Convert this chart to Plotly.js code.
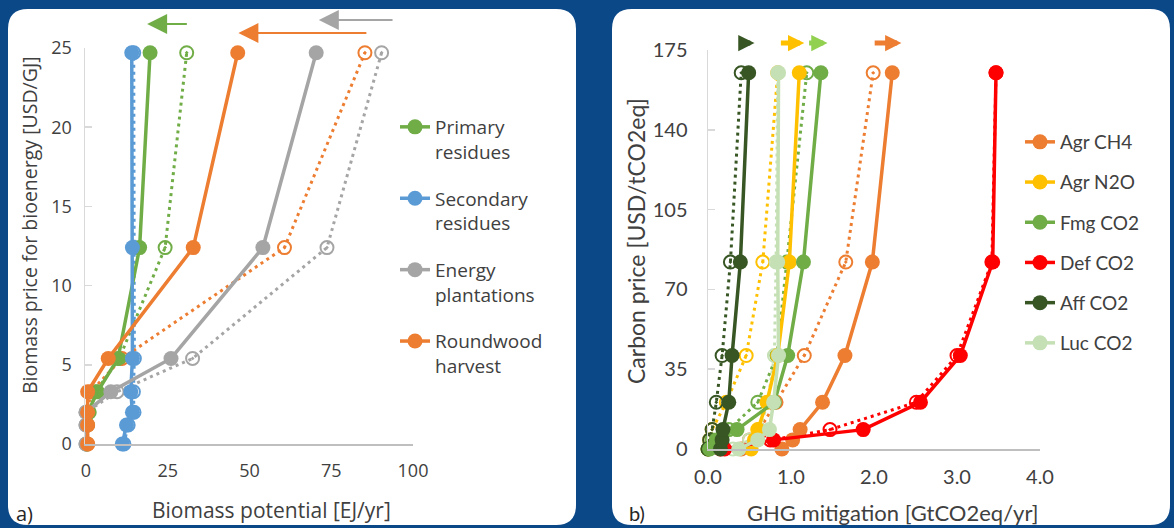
<!DOCTYPE html>
<html><head><meta charset="utf-8">
<script src="https://cdn.plot.ly/plotly-3.0.1.min.js"></script>
<style>html,body{margin:0;padding:0;background:#0b4888;}#chart{width:1174px;height:528px;}</style>
</head><body><div id="chart"></div>
<script>
// ---------- Panel a: biomass ----------
const priceA = [0, 1.2, 2.0, 3.3, 5.4, 12.4, 24.7];
const namesA = ["Primary<br>residues", "Secondary<br>residues", "Energy<br>plantations", "Roundwood<br>harvest"];
const colorsA = ["#70AD47", "#5B9BD5", "#A5A5A5", "#ED7D31"];
const primarySolid   = [0.3, 0.4, 0.6, 3.5, 9.8, 16.4, 19.6];
const primaryDotted  = [0.2, 0.4, 1.0, 3.0, 10.2, 24.2, 30.8];
const secondarySolid = [11.1, 12.4, 14.2, 13.7, 14.2, 14.2, 14.0];
const secondaryDotted= [11.6, 12.9, 14.7, 14.5, 14.8, 14.8, 14.6];
const energySolid    = [0, 0, 0, 7.6, 26.0, 54.1, 70.4];
const energyDotted   = [0, 0, 0, 9.5, 32.6, 73.7, 90.4];
const roundSolid     = [0.5, 0.5, 0.5, 0.5, 6.8, 32.8, 46.4];
const roundDotted    = [0.5, 0.5, 0.5, 1.5, 11.0, 60.7, 85.3];
const solidA  = [primarySolid, secondarySolid, energySolid, roundSolid];
const dottedA = [primaryDotted, secondaryDotted, energyDotted, roundDotted];
const ticksAx = [0, 25, 50, 75, 100];
const ticksAy = [0, 5, 10, 15, 20, 25];
// shift arrows (from -> to), panel a
const arrowFromA = [31.3, 86.2, 94.2];
const arrowToA   = [18.7, 46.6, 71.2];
const arrowColA  = ["#70AD47", "#ED7D31", "#A5A5A5"];

// ---------- Panel b: GHG mitigation ----------
const priceB = [0, 4, 8.5, 20.5, 41, 82, 165];
const namesB = ["Agr CH4", "Agr N2O", "Fmg CO2", "Def CO2", "Aff CO2", "Luc CO2"];
const colorsB = ["#ED7D31", "#FFC000", "#70AD47", "#FF0000", "#375623", "#C5E0B4"];
const agrCH4Solid  = [0.89, 1.02, 1.11, 1.38, 1.65, 1.98, 2.22];
const agrCH4Dotted = [0.40, 0.50, 0.62, 0.82, 1.16, 1.66, 1.99];
const agrN2OSolid  = [0.52, 0.56, 0.60, 0.71, 0.84, 0.98, 1.10];
const agrN2ODotted = [0.00, 0.02, 0.05, 0.22, 0.46, 0.66, 0.84];
const fmgCO2Solid  = [0.02, 0.10, 0.35, 0.80, 0.96, 1.15, 1.36];
const fmgCO2Dotted = [0.00, 0.05, 0.25, 0.60, 0.83, 0.95, 1.19];
const defCO2Solid  = [0.20, 0.79, 1.87, 2.56, 3.04, 3.43, 3.47];
const defCO2Dotted = [0.15, 0.75, 1.47, 2.51, 3.00, 3.42, 3.47];
const affCO2Solid  = [0.15, 0.17, 0.18, 0.25, 0.29, 0.39, 0.49];
const affCO2Dotted = [0.00, 0.02, 0.05, 0.10, 0.17, 0.27, 0.40];
const lucCO2Solid  = [0.37, 0.60, 0.74, 0.79, 0.85, 0.84, 0.85];
const lucCO2Dotted = [0.30, 0.50, 0.62, 0.72, 0.80, 0.82, 0.84];
const solidB  = [agrCH4Solid, agrN2OSolid, fmgCO2Solid, defCO2Solid, affCO2Solid, lucCO2Solid];
const dottedB = [agrCH4Dotted, agrN2ODotted, fmgCO2Dotted, defCO2Dotted, affCO2Dotted, lucCO2Dotted];
const ticksBx = [0, 1, 2, 3, 4];
const ticksBy = [0, 35, 70, 105, 140, 175];
const arrowFromB = [0.36, 0.86, 1.20, 1.99];
const arrowToB   = [0.56, 1.16, 1.44, 2.33];
const arrowColB  = ["#375623", "#FFC000", "#92D050", "#ED7D31"];

// ---------- geometry helpers ----------
const W = 1174, H = 528;
const px = v => v / W, py = v => 1 - v / H;
const FONT_A = '"Open Sans", Lato, sans-serif';
const FONT_B = 'Lato, "Open Sans", sans-serif';
const TXT = '#404040';

function roundRect(x0, y0, x1, y1, r) {
  const a = px(x0), b = px(x1), t = py(y0), u = py(y1), rx = r / W, ry = r / H;
  return `M${a+rx},${t} L${b-rx},${t} Q${b},${t} ${b},${t-ry} L${b},${u+ry} Q${b},${u} ${b-rx},${u} ` +
         `L${a+rx},${u} Q${a},${u} ${a},${u+ry} L${a},${t-ry} Q${a},${t} ${a+rx},${t} Z`;
}

const traces = [];
dottedA.forEach((xs, i) => traces.push({
  x: xs, y: priceA, xaxis: 'x', yaxis: 'y', type: 'scatter', mode: 'lines+markers',
  line: {color: colorsA[i], width: 3, dash: '3px,4px'},
  marker: {symbol: 'circle-open-dot', size: 13, color: colorsA[i], line: {width: 2, color: colorsA[i]}},
  showlegend: false, legendgroup: 'a' + i, cliponaxis: false, hoverinfo: 'skip'
}));
solidA.forEach((xs, i) => traces.push({
  x: xs, y: priceA, xaxis: 'x', yaxis: 'y', type: 'scatter', mode: 'lines+markers',
  name: namesA[i], legend: 'legend', legendgroup: 'a' + i,
  line: {color: colorsA[i], width: 3.5},
  marker: {symbol: 'circle', size: 15, color: colorsA[i]},
  cliponaxis: false, hoverinfo: 'skip'
}));
dottedB.forEach((xs, i) => traces.push({
  x: xs, y: priceB, xaxis: 'x2', yaxis: 'y2', type: 'scatter', mode: 'lines+markers',
  line: {color: colorsB[i], width: 3, dash: '3px,4px'},
  marker: {symbol: 'circle-open-dot', size: 13, color: colorsB[i], line: {width: 2, color: colorsB[i]}},
  showlegend: false, legend: 'legend2', legendgroup: 'b' + i, cliponaxis: false, hoverinfo: 'skip'
}));
solidB.forEach((xs, i) => traces.push({
  x: xs, y: priceB, xaxis: 'x2', yaxis: 'y2', type: 'scatter', mode: 'lines+markers',
  name: namesB[i], legend: 'legend2', legendgroup: 'b' + i,
  line: {color: colorsB[i], width: 3.5},
  marker: {symbol: 'circle', size: 15, color: colorsB[i]},
  cliponaxis: false, hoverinfo: 'skip'
}));

const annotations = [];
arrowFromA.forEach((f, i) => annotations.push({
  xref: 'x', yref: 'paper', x: arrowToA[i], y: py([24, 33, 20][i]), axref: 'x', ayref: 'pixel', ax: f, ay: 0,
  text: '', showarrow: true, arrowhead: 2, arrowsize: 2, arrowwidth: 2, arrowcolor: arrowColA[i], standoff: 0
}));
arrowFromB.forEach((f, i) => annotations.push({
  xref: 'x2', yref: 'paper', x: arrowToB[i], y: py(43), axref: 'x2', ayref: 'pixel', ax: f, ay: 0,
  text: '', showarrow: true, arrowhead: 2, arrowsize: 0.65, arrowwidth: 5, arrowcolor: arrowColB[i], standoff: 0
}));
function label(x, y, text, font, angle) {
  return {xref: 'paper', yref: 'paper', x: px(x), y: py(y), xanchor: 'center', yanchor: 'middle',
          text: text, textangle: angle || 0, showarrow: false, font: font};
}
annotations.push(
  label(29, 225, 'Biomass price for bioenergy [USD/GJ]', {family: FONT_A, size: 19.5, color: TXT}, -90),
  label(271, 510, 'Biomass potential [EJ/yr]', {family: FONT_A, size: 21, color: TXT}),
  label(24, 513, 'a)', {family: FONT_A, size: 20, color: '#262626'}),
  label(636, 241, 'Carbon price [USD/tCO2eq]', {family: FONT_B, size: 23, color: TXT}, -90),
  label(893, 512, 'GHG mitigation [GtCO2eq/yr]', {family: FONT_B, size: 22, color: TXT}),
  label(637, 513, 'b)', {family: FONT_B, size: 20, color: '#262626'})
);

const baseX = {showgrid: false, zeroline: false, showline: true, linecolor: '#bfbfbf', linewidth: 2, ticks: '', fixedrange: true};
const baseY = {showgrid: false, zeroline: false, showline: true, linecolor: '#d9d9d9', linewidth: 1.5, ticks: 'inside',
               ticklen: 7, tickcolor: '#d9d9d9', tickwidth: 1.5, fixedrange: true};
const tickFontA = {family: FONT_A, size: 18, color: TXT};
const tickFontB = {family: FONT_B, size: 20, color: TXT};

const layout = {
  width: W, height: H, margin: {l: 0, r: 0, t: 0, b: 0},
  paper_bgcolor: '#0b4888', plot_bgcolor: 'rgba(0,0,0,0)',
  font: {family: FONT_B, color: TXT},
  xaxis: Object.assign({}, baseX, {domain: [px(85), px(413)], range: [-0.3, 100], anchor: 'y', tickvals: ticksAx, tickfont: tickFontA, ticklabelstandoff: 9}),
  yaxis: Object.assign({}, baseY, {domain: [py(444), py(48)], range: [0, 25], anchor: 'x', tickvals: ticksAy, tickfont: tickFontA, ticklabelstandoff: 8}),
  xaxis2: Object.assign({}, baseX, {domain: [px(708), px(1040)], range: [0, 4], anchor: 'y2', tickvals: ticksBx, tickformat: '.1f', tickfont: tickFontB, ticklabelstandoff: 9}),
  yaxis2: Object.assign({}, baseY, {domain: [py(449), py(50)], range: [0, 175], anchor: 'x2', tickvals: ticksBy, tickfont: tickFontB, ticklabelstandoff: 15}),
  legend: {x: px(395), y: py(108), xanchor: 'left', yanchor: 'top', bgcolor: 'rgba(0,0,0,0)',
           font: {family: FONT_A, size: 19, color: TXT}, valign: 'top', tracegroupgap: 19, traceorder: 'grouped', itemwidth: 30},
  legend2: {x: px(1020), y: py(123), xanchor: 'left', yanchor: 'top', bgcolor: 'rgba(0,0,0,0)',
           font: {family: FONT_B, size: 19, color: TXT}, tracegroupgap: 12.5, traceorder: 'grouped', itemwidth: 30},
  shapes: [
    {type: 'path', xref: 'paper', yref: 'paper', path: roundRect(8, 9, 576, 525, 20), fillcolor: '#ffffff', line: {width: 0}, layer: 'below'},
    {type: 'path', xref: 'paper', yref: 'paper', path: roundRect(612, 9, 1170, 525, 20), fillcolor: '#ffffff', line: {width: 0}, layer: 'below'}
  ],
  annotations: annotations,
  showlegend: true
};

Plotly.newPlot('chart', traces, layout, {staticPlot: true, displayModeBar: false});
</script>
</body></html>
